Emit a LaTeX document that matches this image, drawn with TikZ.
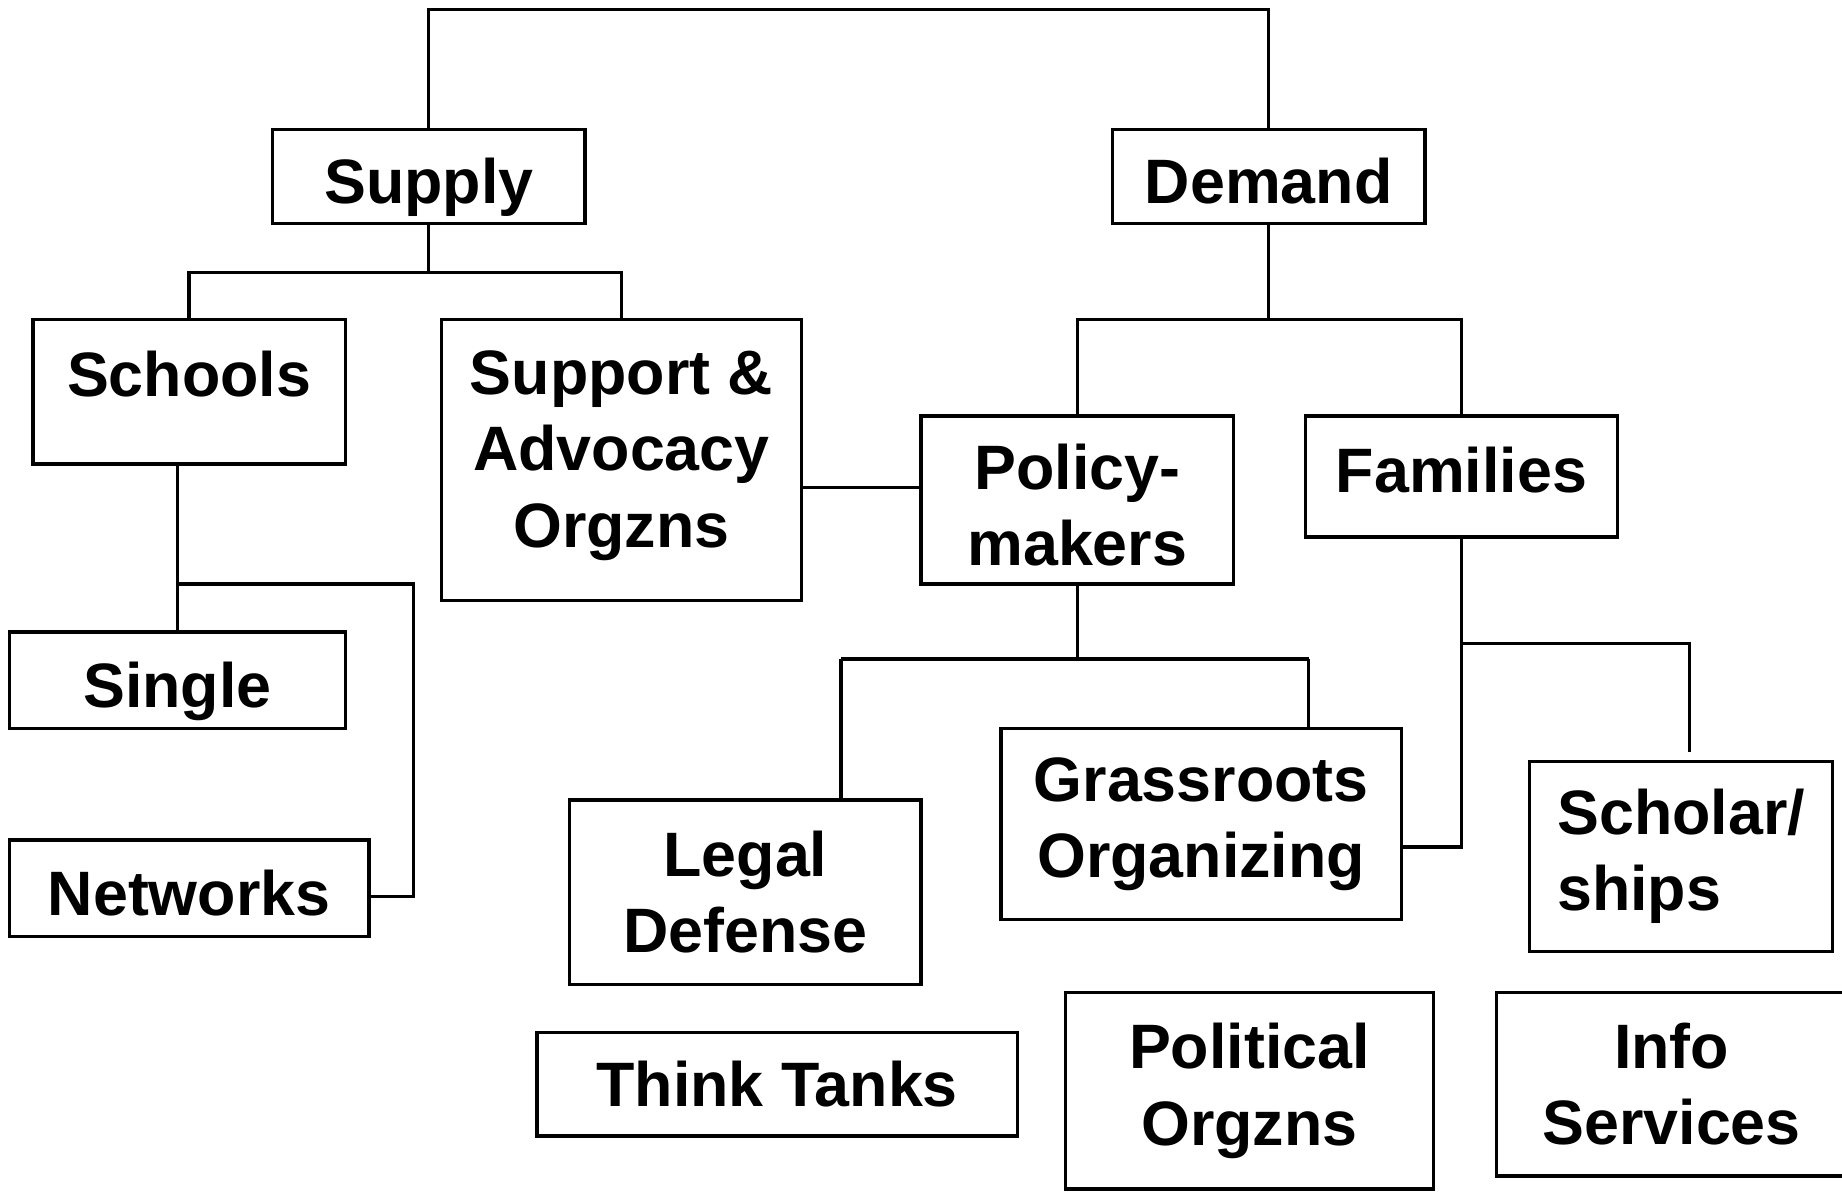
\documentclass[tikz,border=0pt]{standalone}
\usepackage{fontspec}
\setmainfont{Liberation Sans}
\usepackage{tikz}

\begin{document}
\begin{tikzpicture}[x=0.1mm, y=-0.1mm, line width=0.8pt,
    box/.style={draw, inner sep=0pt, align=center,
      font=\bfseries\fontsize{15.2}{18.5}\selectfont},
    oneline/.style={box, text height=4.8mm, text depth=0.2mm}]
                \useasboundingbox (0,0) rectangle (1568,1014);
                \node[oneline, minimum width=26.6mm, minimum height=8mm] (supply) at (365,150) {Supply};
                \node[oneline, minimum width=26.6mm, minimum height=8mm] (demand) at (1080,150) {Demand};
                \node[box, minimum width=26.6mm, minimum height=12.3mm, text depth=3.1mm] (schools) at (161,333.5) {Schools};
                \node[box, minimum width=30.6mm, minimum height=23.9mm, text depth=1.9mm] (support) at (529,391.5) {Support \&\\Advocacy\\Orgzns};
                \node[oneline, minimum width=28.6mm, minimum height=8.2mm] (single) at (151,579) {Single};
                \node[oneline, minimum width=30.6mm, minimum height=8.2mm] (networks) at (161,756) {Networks};
                \node[box, minimum width=26.6mm, minimum height=14.3mm, text height=11.3mm] (policy) at (917,425.5) {Policy-\\makers};
                \node[box, minimum width=26.6mm, minimum height=10.3mm, text depth=1.1mm] (families) at (1244,405.5) {Families};
                \node[box, minimum width=29.9mm, minimum height=15.7mm] (legal) at (634.5,759.5) {Legal\\Defense};
                \node[box, minimum width=34.1mm, minimum height=16.3mm] (grass) at (1022.5,701.5) {Grassroots\\Organizing};
                \node[box, align=left, minimum width=25.8mm, minimum height=16.2mm] (scholar) at (1431,729) {Scholar/\\ships};
                \node[box, minimum width=40.9mm, minimum height=8.8mm] (think) at (661.5,923) {Think Tanks};
                \node[box, minimum width=31.3mm, minimum height=16.7mm] (political) at (1063.5,928.5) {Political\\Orgzns};
                \node[box, minimum width=29.8mm, minimum height=15.6mm] (info) at (1423,923) {Info\\Services};
                \coordinate (top) at (365,8);
                \coordinate (sb) at (365,232);
                \coordinate (db) at (1080,272);
                \coordinate (nb) at (151,497);
                \coordinate (pl) at (716,561);
                \coordinate (pr) at (1114,561);
                \coordinate (fb) at (1244,548);
                \coordinate (fl) at (1244,721);
                \coordinate (sch) at (1438,640);
                \draw (supply.north) -- (top) -| (demand.north);
                \draw (supply.south) -- (sb);
                \draw (schools.north) |- (sb) -| (support.north);
                \draw (schools.south -| single.north) -- (single.north);
                \draw (nb) -- (352,497) |- ([yshift=-0.7mm]networks.east);
                \draw (support.east |- 0,415) -- (policy.west |- 0,415);
                \draw (demand.south) -- (db);
                \draw (policy.north) |- (db) -| (families.north);
                \draw (policy.south) -- (policy.south |- pl);
                \draw (pl) -- (pr);
                \draw (pl) -- (pl |- legal.north);
                \draw (pr) -- (pr |- grass.north);
                \draw (families.south) -- (fl) -- (fl -| grass.east);
                \draw (fb) -| (sch);
            \end{tikzpicture}
\end{document}
